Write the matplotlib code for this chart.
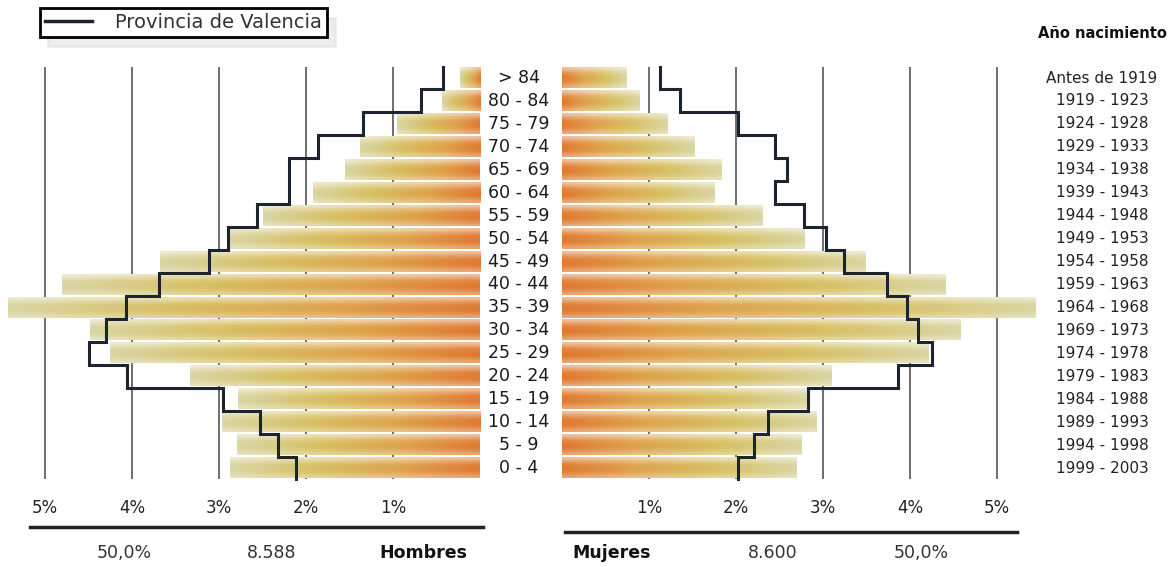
import numpy as np
import matplotlib
matplotlib.use('Agg')
import matplotlib.pyplot as plt
from matplotlib.lines import Line2D
from matplotlib.colors import to_rgb
from matplotlib.transforms import blended_transform_factory

# age groups, bottom (0-4) to top (>84)
ages = ['0 - 4', '5 - 9', '10 - 14', '15 - 19', '20 - 24', '25 - 29', '30 - 34',
        '35 - 39', '40 - 44', '45 - 49', '50 - 54', '55 - 59', '60 - 64',
        '65 - 69', '70 - 74', '75 - 79', '80 - 84', '> 84']
years = ['1999 - 2003', '1994 - 1998', '1989 - 1993', '1984 - 1988', '1979 - 1983',
         '1974 - 1978', '1969 - 1973', '1964 - 1968', '1959 - 1963', '1954 - 1958',
         '1949 - 1953', '1944 - 1948', '1939 - 1943', '1934 - 1938', '1929 - 1933',
         '1924 - 1928', '1919 - 1923', 'Antes de 1919']

# % of population (municipality)
hombres = [2.87, 2.79, 2.97, 2.78, 3.33, 4.25, 4.48, 5.42, 4.80, 3.68,
           2.87, 2.49, 1.92, 1.55, 1.38, 0.95, 0.44, 0.23]
mujeres = [2.69, 2.75, 2.92, 2.82, 3.10, 4.21, 4.58, 5.44, 4.41, 3.49,
           2.79, 2.30, 1.75, 1.83, 1.52, 1.21, 0.89, 0.74]
# Provincia de Valencia
prov_h = [2.11, 2.32, 2.53, 2.95, 4.06, 4.50, 4.30, 4.07, 3.69, 3.12,
          2.90, 2.56, 2.19, 2.19, 1.86, 1.34, 0.68, 0.43]
prov_m = [2.02, 2.21, 2.37, 2.83, 3.86, 4.25, 4.09, 3.97, 3.73, 3.24,
          3.04, 2.78, 2.45, 2.59, 2.45, 2.02, 1.36, 1.13]

ticks = [1, 2, 3, 4, 5]
tick_labels = ['1%', '2%', '3%', '4%', '5%']

W, H = 1174, 567
fig = plt.figure(figsize=(W / 100, H / 100), dpi=100)
fig.patch.set_facecolor('white')

px = 87.0  # pixels per 1 %
bottom = 1 - 485 / H
height = 425 / H
axL = fig.add_axes([0, bottom, 480 / W, height])
axR = fig.add_axes([562 / W, bottom, 478 / W, height])
axL.set_xlim(480 / px, 0)
axR.set_xlim(0, 478 / px)
ylim = (-0.741, 17.785)

# bar gradient: center orange -> outer pale yellow
stops = [to_rgb('#e07a32'), to_rgb('#dea24a'), to_rgb('#d7bf62'), to_rgb('#dad5a2')]
t = np.linspace(0, 1, 64)
grad = np.zeros((64, 3))
for c in range(3):
    grad[:, c] = np.interp(t, [0, 0.3, 0.65, 1], [s[c] for s in stops])
shade = np.array([0.5, 0.25, 0.06, 0.0, 0.0, 0.12, 0.3])
img = grad[None, :, :] * (1 - shade[:, None, None]) + shade[:, None, None]
img = np.clip(img, 0, 1)

bh = 0.88
y = np.arange(len(ages))
for ax, vals, prov in [(axL, hombres, prov_h), (axR, mujeres, prov_m)]:
    ax.vlines(ticks, -0.5, len(ages) - 0.5, color='#555555', lw=1.2, zorder=1)
    for i, v in enumerate(vals):
        ax.imshow(img, extent=(0, v, i - bh / 2, i + bh / 2), aspect='auto',
                  interpolation='bilinear', zorder=2, origin='upper')
    xs = np.repeat(prov, 2)
    ys = np.ravel([[i - 0.5, i + 0.5] for i in y])
    ax.plot(xs, ys, color='#1c2430', lw=2.2, zorder=3, solid_joinstyle='miter')
    ax.set_ylim(*ylim)
    ax.set_xticks(ticks, tick_labels)
    ax.set_yticks([])
    ax.tick_params(axis='x', length=0, pad=10, labelsize=12, labelcolor='#222222')
    for s in ax.spines.values():
        s.set_visible(False)
    ax.patch.set_alpha(0)

tr = blended_transform_factory(fig.transFigure, axL.transData)
for i in y:
    axL.text(519 / W, i, ages[i], transform=tr, ha='center', va='center',
             fontsize=12.5, color='#1a1a1a', clip_on=False)
    axL.text(1102 / W, i, years[i], transform=tr, ha='center', va='center',
             fontsize=11, color='#222222', clip_on=False)

fig.text(1102 / W, 1 - 33 / H, 'Año nacimiento', ha='center', va='center',
         fontsize=10.5, fontweight='bold', color='#111111')

# totals under the axes
fig.add_artist(Line2D([30 / W, 483 / W], [1 - 527 / H] * 2, color='#222222', lw=2.5))
fig.add_artist(Line2D([565 / W, 1017 / W], [1 - 532 / H] * 2, color='#222222', lw=2.5))
ty = 1 - 553 / H
fig.text(124 / W, ty, '50,0%', ha='center', va='center', fontsize=12.5, color='#333333')
fig.text(272 / W, ty, '8.588', ha='center', va='center', fontsize=12.5, color='#333333')
fig.text(423 / W, ty, 'Hombres', ha='center', va='center', fontsize=12.5,
         fontweight='bold', color='#111111')
fig.text(612 / W, ty, 'Mujeres', ha='center', va='center', fontsize=12.5,
         fontweight='bold', color='#111111')
fig.text(773 / W, ty, '8.600', ha='center', va='center', fontsize=12.5, color='#333333')
fig.text(921 / W, ty, '50,0%', ha='center', va='center', fontsize=12.5, color='#333333')

# legend
handle = Line2D([], [], color='#1c2430', lw=2.5)
leg = fig.legend([handle], ['Provincia de Valencia'], loc='upper left',
                 bbox_to_anchor=(40 / W, 1 - 8 / H), fontsize=14, frameon=True,
                 fancybox=False, edgecolor='black', framealpha=1, handlelength=2.4,
                 borderpad=0.25, borderaxespad=0, handletextpad=1.2,
                 shadow={'color': '#dcdcdc', 'ox': 6, 'oy': -7})
leg.get_frame().set_linewidth(2)
for txt in leg.get_texts():
    txt.set_color('#333333')

fig.savefig('out.png', dpi=100, facecolor='white')
